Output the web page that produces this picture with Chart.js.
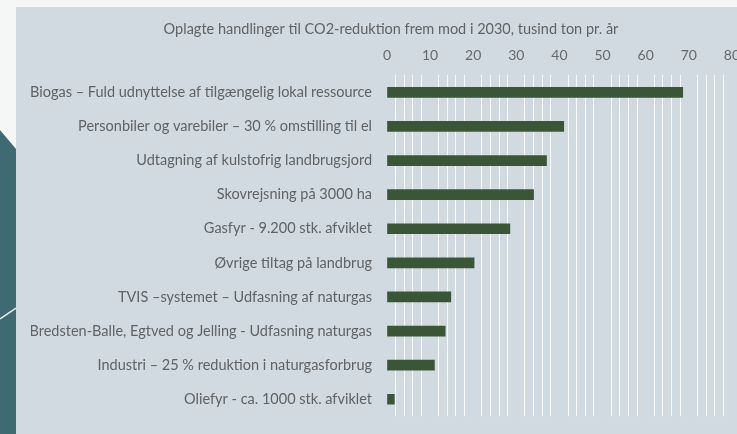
<!DOCTYPE html>
<html>
<head>
<meta charset="utf-8">
<script src="https://cdn.jsdelivr.net/npm/chart.js@4.4.1/dist/chart.umd.min.js"></script>
<style>
  html, body { margin:0; padding:0; width:737px; height:434px; overflow:hidden; background:#f5f6f6; }
  #panel { position:absolute; left:16px; top:7px; width:740px; height:427px; background:#d1dae0; }
  #deco { position:absolute; left:0; top:0; width:16px; height:434px; background:#3f6a74;
          clip-path: polygon(0 130px, 16px 149px, 16px 434px, 0 434px); }
  #decoLine { position:absolute; left:0; top:0; width:16px; height:434px; }
  #wrap { position:absolute; left:16px; top:7px; width:735px; height:433px; }
</style>
</head>
<body>
<div id="panel"></div>
<div id="deco"></div>
<svg id="decoLine" width="16" height="434"><line x1="0" y1="319" x2="16" y2="308" stroke="#e8eef0" stroke-width="1.5"/></svg>
<div id="wrap"><canvas id="c"></canvas></div>
<script>
const categories = [
  "Biogas – Fuld udnyttelse af tilgængelig lokal ressource",
  "Personbiler og varebiler – 30 % omstilling til el",
  "Udtagning af kulstofrig landbrugsjord",
  "Skovrejsning på 3000 ha",
  "Gasfyr - 9.200 stk. afviklet",
  "Øvrige tiltag på landbrug",
  "TVIS –systemet – Udfasning af naturgas",
  "Bredsten-Balle, Egtved og Jelling - Udfasning naturgas",
  "Industri – 25 % reduktion i naturgasforbrug",
  "Oliefyr - ca. 1000 stk. afviklet"
];
const values = [68.6, 41, 37, 34, 28.5, 20.2, 14.8, 13.5, 11, 1.7];
const titleText = "Oplagte handlinger til CO2-reduktion frem mod i 2030, tusind ton pr. år";
const xMin = 0, xMax = 80, gridStep = 2, labelStep = 10;

new Chart(document.getElementById('c'), {
  type: 'bar',
  data: {
    labels: categories,
    datasets: [{
      data: values,
      backgroundColor: '#3b5637',
      barThickness: 10,
      borderWidth: 0
    }]
  },
  options: {
    indexAxis: 'y',
    responsive: true,
    maintainAspectRatio: false,
    animation: false,
    layout: { padding: { left: 15, right: 0, top: 11, bottom: 0 } },
    plugins: {
      legend: { display: false },
      tooltip: { enabled: false },
      title: {
        display: true,
        text: titleText,
        color: '#5f6366',
        font: { family: 'Lato', size: 14.5, weight: 'normal', lineHeight: 1 },
        padding: { top: 4, bottom: 0 }
      }
    },
    scales: {
      x: {
        position: 'top',
        min: xMin, max: xMax,
        ticks: {
          stepSize: gridStep,
          autoSkip: false,
          maxRotation: 0,
          color: '#666a6d',
          font: { family: 'Lato', size: 14 },
          padding: 11,
          callback: v => (v % labelStep === 0 ? String(v) : '')
        },
        grid: {
          drawTicks: false,
          color: ctx => (ctx.tick && ctx.tick.value % labelStep === 0) ? 'rgba(0,0,0,0)' : 'rgba(255,255,255,0.85)',
          lineWidth: 1
        },
        border: { display: false }
      },
      y: {
        afterFit: scale => { scale.width = 356; },
        ticks: {
          color: '#5f6366',
          font: { family: 'Lato', size: 14.5 },
          padding: 15
        },
        grid: { display: false, drawTicks: false },
        border: { display: false }
      }
    }
  }
});
</script>
</body>
</html>
